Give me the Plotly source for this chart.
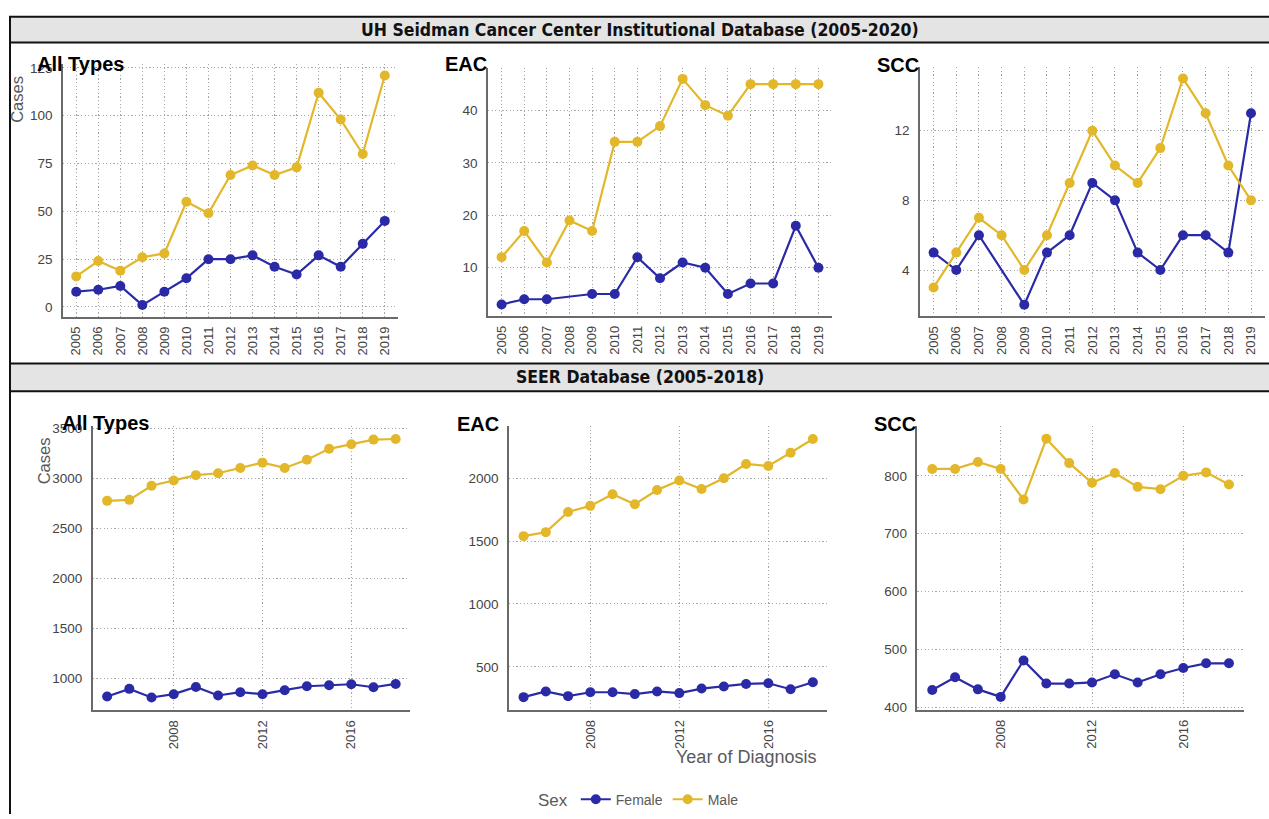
import plotly.graph_objects as go

W, H = 1269, 819

# ---- Institutional database (2005-2019), counts by sex ----
inst_years = list(range(2005, 2020))
inst_all_female = [8, 9, 11, 1, 8, 15, 25, 25, 27, 21, 17, 27, 21, 33, 45]
inst_all_male = [16, 24, 19, 26, 28, 55, 49, 69, 74, 69, 73, 112, 98, 80, 121]
inst_eac_female = [3, 4, 4, None, 5, 5, 12, 8, 11, 10, 5, 7, 7, 18, 10]
inst_eac_male = [12, 17, 11, 19, 17, 34, 34, 37, 46, 41, 39, 45, 45, 45, 45]
inst_scc_female = [5, 4, 6, None, 2, 5, 6, 9, 8, 5, 4, 6, 6, 5, 13]
inst_scc_male = [3, 5, 7, 6, 4, 6, 9, 12, 10, 9, 11, 15, 13, 10, 8]

# ---- SEER database (2005-2018), counts by sex ----
seer_years = list(range(2005, 2019))
seer_all_female = [819, 895, 809, 842, 914, 829, 862, 842, 882, 921, 931, 941, 911, 944]
seer_all_male = [2773, 2783, 2924, 2977, 3030, 3049, 3102, 3155, 3102, 3184, 3293, 3339, 3385, 3391]
seer_eac_female = [259, 304, 267, 298, 298, 283, 304, 291, 327, 343, 364, 369, 322, 377]
seer_eac_male = [1539, 1571, 1731, 1780, 1872, 1793, 1906, 1982, 1914, 2000, 2113, 2097, 2202, 2312]
seer_scc_female = [430, 452, 431, 418, 481, 441, 441, 443, 457, 443, 457, 468, 476, 476]
seer_scc_male = [812, 812, 824, 812, 759, 864, 822, 788, 805, 781, 777, 800, 806, 785]

panel_titles = ["All Types", "EAC", "SCC"]
inst_header = "UH Seidman Cancer Center Institutional Database (2005-2020)"
seer_header = "SEER Database (2005-2018)"
seer_xticks = [2008, 2012, 2016]

FEMALE = "#2a2aa6"
MALE = "#e3b72a"
TICK = "#444444"
GRID = "#a8a8a8"
AXIS = "#6a6a6a"
GRID_DASH = "1.2px,2.4px"


def px_x(a, b):
    return [a / W, b / W]


def px_y(top, bottom):
    return [1 - bottom / H, 1 - top / H]


panels = [
    # (female, male, years, x-domain px, y-domain px, xrange, yrange, yticks, xticks)
    (inst_all_female, inst_all_male, inst_years, (63, 398), (59.8, 315.4),
     [2004.4, 2019.6], [-5, 127], [0, 25, 50, 75, 100, 125], inst_years),
    (inst_eac_female, inst_eac_male, inst_years, (488, 832), (63.4, 314.6),
     [2004.4, 2019.6], [0.85, 48.15], [10, 20, 30, 40], inst_years),
    (inst_scc_female, inst_scc_male, inst_years, (920, 1264.6), (62.9, 315),
     [2004.4, 2019.6], [1.35, 15.65], [4, 8, 12], inst_years),
    (seer_all_female, seer_all_male, seer_years, (92.7, 410.1), (426.3, 714.1),
     [2004.35, 2018.65], [680, 3520], [1000, 1500, 2000, 2500, 3000, 3500], seer_xticks),
    (seer_eac_female, seer_eac_male, seer_years, (509.1, 827.3), (426.2, 713.8),
     [2004.35, 2018.65], [156, 2415], [500, 1000, 1500, 2000], seer_xticks),
    (seer_scc_female, seer_scc_male, seer_years, (917.4, 1243.8), (426.3, 713.5),
     [2004.35, 2018.65], [395.7, 886], [400, 500, 600, 700, 800], seer_xticks),
]

fig = go.Figure()
layout = {}

for i, (fem, mal, yrs, xd, yd, xr, yr, ytk, xtk) in enumerate(panels):
    n = "" if i == 0 else str(i + 1)
    xa, ya = "x" + n, "y" + n
    show = i == 0
    for name, vals, col in (("Female", fem, FEMALE), ("Male", mal, MALE)):
        fig.add_trace(go.Scatter(
            x=yrs, y=vals, name=name, mode="lines+markers", connectgaps=True,
            line=dict(color=col, width=2.2),
            marker=dict(color=col, size=10),
            xaxis=xa, yaxis=ya, showlegend=show, legendgroup=name,
        ))
    top_row = i < 3
    layout["xaxis" + n] = dict(
        domain=px_x(*xd), anchor=ya, range=xr,
        tickmode="array", tickvals=xtk, ticktext=[str(t) for t in xtk],
        tickangle=-90,
        tickfont=dict(family="Liberation Sans, Arial", size=13 if top_row else 13, color=TICK),
        showgrid=True, gridcolor=GRID, griddash=GRID_DASH, gridwidth=1.1,
        showline=True, linecolor=AXIS, linewidth=1.6, ticks="", zeroline=False,
        ticklabelstandoff=3, fixedrange=True,
    )
    layout["yaxis" + n] = dict(
        domain=px_y(*yd), anchor=xa, range=yr,
        tickmode="array", tickvals=ytk,
        tickfont=dict(family="Liberation Sans, Arial", size=13.5, color=TICK),
        showgrid=True, gridcolor=GRID, griddash=GRID_DASH, gridwidth=1.1,
        showline=True, linecolor=AXIS, linewidth=1.6, ticks="", zeroline=False,
        ticklabelstandoff=6, fixedrange=True,
    )

fig.update_layout(**layout)

ann = []
shapes = []

# header bars with frame lines
for top, bottom, text in ((12, 38, inst_header), (363, 391, seer_header)):
    shapes.append(dict(type="rect", xref="paper", yref="paper", x0=10 / W, x1=1.0,
                       y0=1 - bottom / H, y1=1 - top / H, fillcolor="#e4e4e4",
                       line=dict(width=0), layer="below"))
    for yy in (top, bottom):
        shapes.append(dict(type="line", xref="paper", yref="paper", x0=9 / W, x1=1.0,
                           y0=1 - yy / H, y1=1 - yy / H, line=dict(color="#111", width=2)))
    ann.append(dict(text="<b>" + text + "</b>", x=640 / W, y=1 - (top + bottom) / 2 / H,
                    xref="paper", yref="paper", showarrow=False, xanchor="center", yanchor="middle",
                    font=dict(family="Liberation Sans Narrow, DejaVu Sans Condensed, sans-serif",
                              size=17.5, color="#111")))

# left frame edge
shapes.append(dict(type="line", xref="paper", yref="paper", x0=10 / W, x1=10 / W,
                   y0=0, y1=1 - 12 / H, line=dict(color="#111", width=2)))

# panel titles
title_pos = [(35, 60), (443, 60), (875, 61), (60, 423), (455, 424), (872, 424)]
for i, (tx, ty) in enumerate(title_pos):
    ann.append(dict(text="<b>" + panel_titles[i % 3] + "</b>", x=tx / W, y=1 - ty / H,
                    xref="paper", yref="paper", showarrow=False, xanchor="left", yanchor="middle",
                    font=dict(family="Liberation Sans, Arial", size=20, color="#000")))

# y axis titles
for cx, cy in ((17, 96), (44, 462)):
    ann.append(dict(text="Cases", x=cx / W, y=1 - cy / H, xref="paper", yref="paper",
                    showarrow=False, textangle=-90, xanchor="center", yanchor="middle",
                    font=dict(family="Liberation Sans, Arial", size=16.5, color="#5a5a5a")))

# x axis title
ann.append(dict(text="Year of Diagnosis", x=746 / W, y=1 - 761 / H, xref="paper", yref="paper",
                showarrow=False, xanchor="center", yanchor="middle",
                font=dict(family="Liberation Sans, Arial", size=18, color="#5a5a5a")))

fig.update_layout(
    width=W, height=H, margin=dict(l=0, r=0, t=0, b=0),
    paper_bgcolor="white", plot_bgcolor="white",
    annotations=ann, shapes=shapes,
    legend=dict(orientation="h", x=640 / W, y=1 - 805 / H, xanchor="center", yanchor="middle",
                title=dict(text="Sex", side="left", font=dict(family="Liberation Sans, Arial", size=17, color="#5a5a5a")),
                font=dict(family="Liberation Sans, Arial", size=14, color="#5a5a5a"),
                itemwidth=30, bgcolor="rgba(0,0,0,0)"),
)

fig.write_html("out.html")
